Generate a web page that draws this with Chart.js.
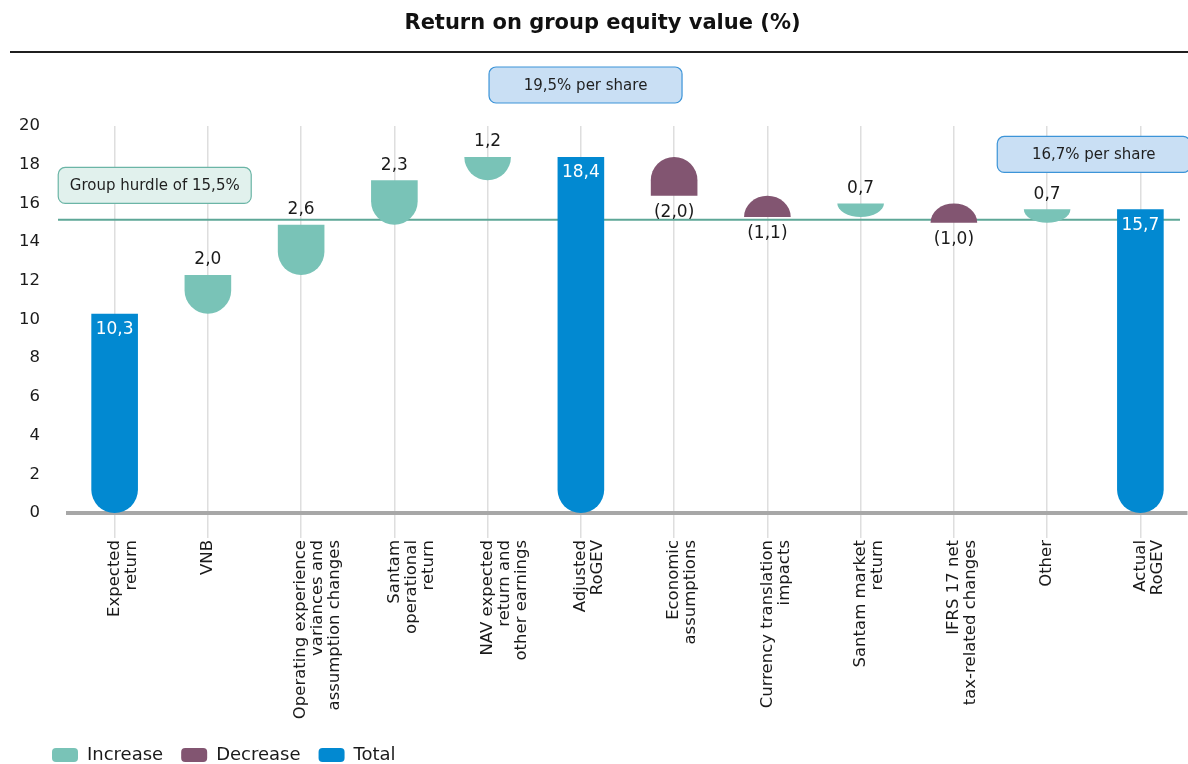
<!DOCTYPE html>
<html>
<head>
<meta charset="utf-8">
<script src="https://cdn.jsdelivr.net/npm/chart.js@4.4.1/dist/chart.umd.min.js"></script>
<style>
  html, body { margin: 0; padding: 0; background: #fff; overflow: hidden; }
</style>
</head>
<body>
<canvas id="grafico-rogev" width="1188" height="764"></canvas>
<script>
// datos
const categorias = [
    ["Expected", "return"],
    ["VNB"],
    ["Operating experience", "variances and", "assumption changes"],
    ["Santam", "operational", "return"],
    ["NAV expected", "return and", "other earnings"],
    ["Adjusted", "RoGEV"],
    ["Economic", "assumptions"],
    ["Currency translation", "impacts"],
    ["Santam market", "return"],
    ["IFRS 17 net", "tax-related changes"],
    ["Other"],
    ["Actual", "RoGEV"]
];
const cambios = [10.3, 2.0, 2.6, 2.3, 1.2, 18.4, -2.0, -1.1, 0.7, -1.0, 0.7, 15.7];
const tipos = ["total", "increase", "increase", "increase", "increase", "total",
               "decrease", "decrease", "increase", "decrease", "increase", "total"];
const yTicks = [0, 2, 4, 6, 8, 10, 12, 14, 16, 18, 20];
const hurdle = 15.15;
const notas = ["19,5% per share", "16,7% per share", "Group hurdle of 15,5%"];

const FONT = "'DejaVu Sans', sans-serif";
const colores = { increase: "#79c3b7", decrease: "#825571", total: "#0289d1" };
const nombres = { increase: "Increase", decrease: "Decrease", total: "Total" };

function armarSeries() {
    const series = { increase: [], decrease: [], total: [] };
    let nivel = 0;
    cambios.forEach((v, i) => {
        let barra;
        if (tipos[i] === "total") {
            barra = [0, v];
            nivel = v;
        } else {
            barra = [nivel, +(nivel + v).toFixed(1)];
            nivel = barra[1];
        }
        for (const k in series) series[k].push(k === tipos[i] ? barra : null);
    });
    return series;
}

function formato(v) {
    const t = Math.abs(v).toFixed(1).replace(".", ",");
    return v < 0 ? "(" + t + ")" : t;
}

// barra con un extremo redondo (media elipse si la barra es baja)
function dibujarTaza(ctx, cx, top, bottom, w, abajo) {
    const rx = w / 2, h = bottom - top, ry = Math.min(rx, h);
    ctx.beginPath();
    if (abajo) {
        ctx.moveTo(cx - rx, top);
        ctx.lineTo(cx + rx, top);
        ctx.lineTo(cx + rx, bottom - ry);
        ctx.ellipse(cx, bottom - ry, rx, ry, 0, 0, Math.PI);
    } else {
        ctx.moveTo(cx - rx, bottom);
        ctx.lineTo(cx + rx, bottom);
        ctx.lineTo(cx + rx, top + ry);
        ctx.ellipse(cx, top + ry, rx, ry, 0, 0, Math.PI, true);
    }
    ctx.closePath();
    ctx.fill();
}

const barrasRedondas = {
    id: "barrasRedondas",
    beforeDatasetDraw(chart, args) {
        const ctx = chart.ctx;
        const ds = chart.data.datasets[args.index];
        ctx.save();
        ctx.fillStyle = ds.backgroundColor;
        args.meta.data.forEach((el, i) => {
            if (ds.data[i] == null) return;
            const { x, y, base, width } = el.getProps(["x", "y", "base", "width"], true);
            dibujarTaza(ctx, x, Math.min(y, base), Math.max(y, base), width, ds.kind !== "decrease");
        });
        ctx.restore();
        return false;
    }
};

const lineaMeta = {
    id: "lineaMeta",
    afterLayout(chart) {
        // la leyenda empieza un poco mas a la derecha que el eje
        chart.legend.left = chart.chartArea.left - 34;
    },
    beforeDatasetsDraw(chart) {
        const { ctx, chartArea } = chart;
        const y = chart.scales.y.getPixelForValue(hurdle);
        ctx.save();
        ctx.strokeStyle = "#5ea797";
        ctx.lineWidth = 2;
        ctx.beginPath();
        ctx.moveTo(chartArea.left - 10, y);
        ctx.lineTo(chartArea.right - 7, y);
        ctx.stroke();
        ctx.restore();
    }
};

const etiquetas = {
    id: "etiquetas",
    afterDatasetsDraw(chart) {
        const ctx = chart.ctx;
        ctx.save();
        ctx.font = "17px " + FONT;
        ctx.textAlign = "center";
        ctx.textBaseline = "middle";
        cambios.forEach((v, i) => {
            const di = chart.data.datasets.findIndex(d => d.kind === tipos[i]);
            const el = chart.getDatasetMeta(di).data[i];
            const top = Math.min(el.y, el.base), bottom = Math.max(el.y, el.base);
            if (tipos[i] === "total") {
                ctx.fillStyle = "#ffffff";
                ctx.fillText(formato(v), el.x, top + 16);
            } else if (tipos[i] === "increase") {
                ctx.fillStyle = "#1a1a1a";
                ctx.fillText(formato(v), el.x, top - 15);
            } else {
                ctx.fillStyle = "#1a1a1a";
                ctx.fillText(formato(v), el.x, bottom + 17);
            }
        });
        ctx.restore();
    }
};

const cajas = {
    id: "cajas",
    afterDraw(chart, args, opts) {
        const { ctx, scales } = chart;
        ctx.save();
        // linea bajo el titulo
        ctx.strokeStyle = "#1f1f1f";
        ctx.lineWidth = 2;
        ctx.beginPath();
        ctx.moveTo(10, 52);
        ctx.lineTo(chart.width, 52);
        ctx.stroke();

        ctx.font = "15px " + FONT;
        ctx.textAlign = "center";
        ctx.textBaseline = "middle";
        opts.items.forEach((it, k) => {
            const cx = scales.x.getPixelForValue(it.pos);
            const cy = scales.y.getPixelForValue(it.nivel);
            const w = opts.ancho, h = opts.alto;
            ctx.beginPath();
            ctx.roundRect(cx - w / 2, cy - h / 2, w, h, 7);
            ctx.fillStyle = it.fondo;
            ctx.fill();
            ctx.lineWidth = 1.2;
            ctx.strokeStyle = it.borde;
            ctx.stroke();
            ctx.fillStyle = "#1f1f1f";
            ctx.fillText(notas[k], cx, cy + 1);
        });
        ctx.restore();
    }
};

const series = armarSeries();

new Chart(document.getElementById("grafico-rogev"), {
    type: "bar",
    data: {
        labels: categorias,
        datasets: ["increase", "decrease", "total"].map(k => ({
            kind: k,
            label: nombres[k],
            data: series[k],
            backgroundColor: colores[k],
            grouped: false,
            categoryPercentage: 1,
            barPercentage: 0.5
        }))
    },
    options: {
        responsive: false,
        animation: false,
        layout: { padding: { left: 18, right: 1, top: 0, bottom: -10 } },
        scales: {
            x: {
                grid: { offset: false, color: "#dedede", lineWidth: 1.5, tickLength: 25 },
                border: { display: true, color: "#a7a7a7", width: 4 },
                ticks: {
                    autoSkip: false, maxRotation: 90, minRotation: 90, padding: 2,
                    color: "#1a1a1a", font: { family: FONT, size: 16.5, lineHeight: 1.03 }
                },
                afterFit: s => { s.height = 215; }
            },
            y: {
                min: 0, max: 20,
                grid: { display: false, drawTicks: false },
                border: { display: false },
                ticks: { padding: 28, color: "#1a1a1a", font: { family: FONT, size: 16.5 } },
                afterBuildTicks: s => { s.ticks = yTicks.map(v => ({ value: v })); },
                afterFit: s => { s.width = 50; }
            }
        },
        plugins: {
            title: {
                display: true,
                text: "Return on group equity value (%)",
                color: "#111111",
                font: { family: FONT, size: 21, weight: "bold" },
                padding: { top: 11.4, bottom: 89.4 }
            },
            legend: {
                position: "bottom",
                align: "start",
                labels: {
                    boxWidth: 26, boxHeight: 14, useBorderRadius: true, borderRadius: 4,
                    padding: 18, color: "#1a1a1a", font: { family: FONT, size: 18 }
                }
            },
            tooltip: { enabled: false },
            cajas: {
                ancho: 193, alto: 36,
                items: [
                    { pos: 5.05, nivel: 22.12, fondo: "#c9dff4", borde: "#3c94d8" },
                    { pos: 10.5, nivel: 18.53, fondo: "#c9dff4", borde: "#3c94d8" },
                    { pos: 0.43, nivel: 16.93, fondo: "#e1f1ed", borde: "#6bb5a6" }
                ]
            }
        }
    },
    plugins: [barrasRedondas, lineaMeta, etiquetas, cajas]
});
</script>
</body>
</html>
